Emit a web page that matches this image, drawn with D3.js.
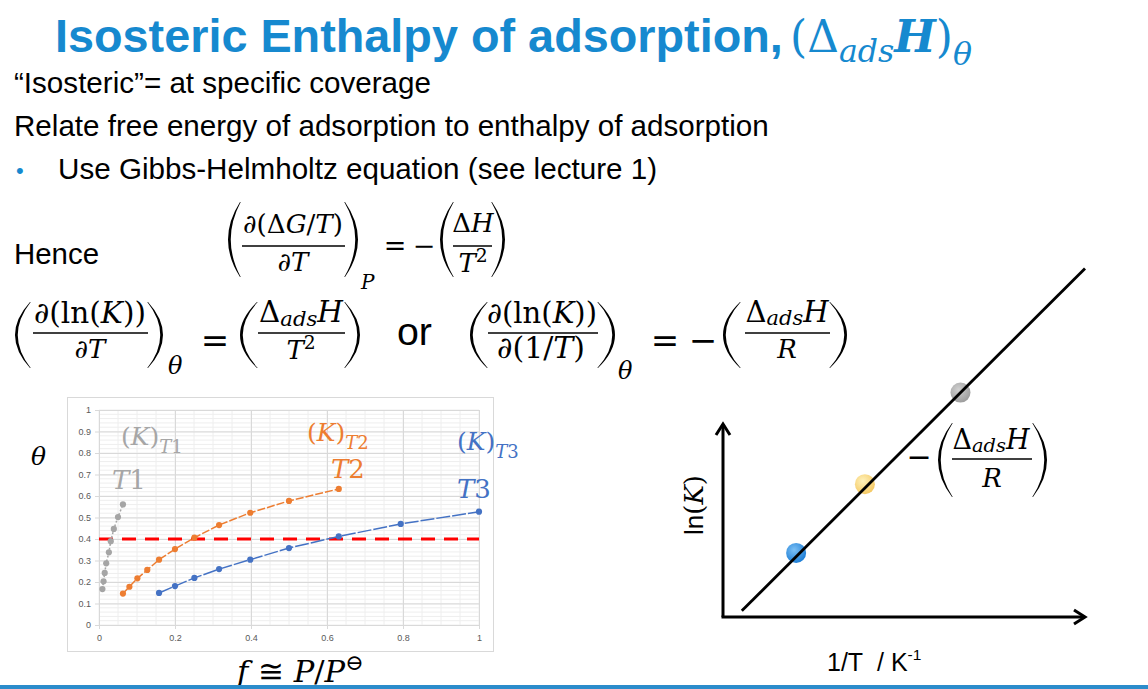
<!DOCTYPE html>
<html>
<head>
<meta charset="utf-8">
<script src="https://cdn.jsdelivr.net/npm/d3@7"></script>
<style>
  html, body { margin: 0; padding: 0; background: #fff; }
  svg { display: block; }
</style>
</head>
<body>
<svg id="slide" width="1148" height="689"></svg>
<script>
// isotherm data (x = f, y = theta)
const grayX = [0.009, 0.012, 0.015, 0.019, 0.026, 0.031, 0.039, 0.050, 0.063];
const grayY = [0.167, 0.203, 0.242, 0.287, 0.338, 0.390, 0.447, 0.502, 0.561];
const orangeX = [0.063, 0.080, 0.101, 0.127, 0.158, 0.200, 0.251, 0.316, 0.398, 0.500, 0.631];
const orangeY = [0.146, 0.178, 0.217, 0.256, 0.304, 0.353, 0.406, 0.465, 0.522, 0.577, 0.633];
const blueX = [0.158, 0.200, 0.251, 0.316, 0.398, 0.500, 0.631, 0.794, 1.000];
const blueY = [0.149, 0.181, 0.219, 0.260, 0.304, 0.358, 0.412, 0.470, 0.527];
const coverage = 0.4;
const xTicks = [0, 0.2, 0.4, 0.6, 0.8, 1];
const yTicks = [0, 0.1, 0.2, 0.3, 0.4, 0.5, 0.6, 0.7, 0.8, 0.9, 1];

// van 't Hoff sketch (arbitrary units)
const fitX = [0.52, 10];
const fitY = [0.17, 9.63];
const dotX = [2.02, 3.92, 6.56];
const dotY = [1.77, 3.67, 6.20];
const dotNames = ["T3", "T2", "T1"];

const BLUE = "#1689cf";
const MATH = "DejaVu Serif, Liberation Serif, serif";
const SANS = "Liberation Sans, Arial, sans-serif";

const svg = d3.select("#slide");
const defs = svg.append("defs");

// fit a text element to a target width by scaling its font-size
function fit(sel, width) {
  const fs = parseFloat(sel.attr("font-size"));
  const w = sel.node().getComputedTextLength();
  if (w > 0) sel.attr("font-size", (fs * width / w).toFixed(2));
  return sel;
}

// math text: parts are [string, flags]; sub may be true or a drop in em
function mtext(g, x, y, parts, fs, color, anchor) {
  const t = g.append("text")
    .attr("x", x).attr("y", y)
    .attr("font-family", MATH)
    .attr("font-size", fs)
    .attr("fill", color || "#000")
    .attr("text-anchor", anchor || "start");
  let shift = 0;
  parts.forEach(([s, f]) => {
    f = f || {};
    const want = f.sub ? (f.sub === true ? 0.3 : f.sub) : f.sup ? -0.4 : 0;
    const ts = t.append("tspan").text(s);
    if (f.sub || f.sup) {
      ts.attr("font-size", "0.72em");
      ts.attr("dy", ((want - shift) / 0.72).toFixed(3) + "em");
    } else if (want !== shift) {
      ts.attr("dy", (want - shift) + "em");
    }
    shift = want;
    if (f.i) ts.attr("font-style", "italic");
    if (f.b) ts.attr("font-weight", "bold");
  });
  return t;
}

// tall bracket drawn as a thin crescent
function paren(g, x1, x2, y1, y2, left, color) {
  const ym = (y1 + y2) / 2, th = 2.4;
  let d;
  if (left) {
    const xe = x2, xm = x1;
    d = `M${xe},${y1} Q${2 * xm - xe},${ym} ${xe},${y2} L${xe + 0.7},${y2} Q${2 * (xm + th) - xe},${ym} ${xe + 0.7},${y1} Z`;
  } else {
    const xe = x1, xm = x2;
    d = `M${xe},${y1} Q${2 * xm - xe},${ym} ${xe},${y2} L${xe - 0.7},${y2} Q${2 * (xm - th) - xe},${ym} ${xe - 0.7},${y1} Z`;
  }
  g.append("path").attr("d", d).attr("fill", color || "#000");
}

function bar(g, x1, x2, y, color) {
  g.append("line").attr("x1", x1).attr("x2", x2).attr("y1", y).attr("y2", y)
    .attr("stroke", color || "#000").attr("stroke-width", 1.7);
}

// Δ_ads H numerator
const dH = [["Δ"], ["ads", { i: true, sub: 0.12 }], ["H", { i: true }]];

// ---------- heading and text ----------
const head = svg.append("g");
fit(head.append("text").attr("x", 55).attr("y", 52)
  .attr("font-family", SANS).attr("font-weight", "bold").attr("font-size", 42)
  .attr("fill", BLUE).text("Isosteric Enthalpy of adsorption,"), 728);
fit(mtext(head, 790, 52, [["(Δ"], ["ads", { i: true, sub: 0.22 }], ["H", { i: true, b: true }], [")"], ["θ", { i: true, sub: true }]], 38, BLUE), 182);

const body = svg.append("g").attr("font-family", SANS).attr("fill", "#000");
fit(body.append("text").attr("x", 14).attr("y", 93).attr("font-size", 26).text("\u201CIsosteric\u201D= at specific coverage"), 417);
fit(body.append("text").attr("x", 14).attr("y", 136).attr("font-size", 26).text("Relate free energy of adsorption to enthalpy of adsorption"), 755);
body.append("text").attr("x", 16).attr("y", 178).attr("font-size", 22).attr("fill", BLUE).text("•");
fit(body.append("text").attr("x", 58).attr("y", 179).attr("font-size", 26).text("Use Gibbs-Helmholtz equation (see lecture 1)"), 599);
fit(body.append("text").attr("x", 14).attr("y", 264).attr("font-size", 25).text("Hence"), 85);
fit(body.append("text").attr("x", 397).attr("y", 345).attr("font-size", 30).text("or"), 35);

// ---------- equations ----------
const eq = svg.append("g");
const FS = 26;
// Gibbs-Helmholtz
paren(eq, 228, 240, 202, 277, true);
fit(mtext(eq, 293, 233, [["∂(Δ"], ["G", { i: true }], ["/"], ["T", { i: true }], [")"]], FS, null, "middle"), 100);
bar(eq, 242, 345, 246);
mtext(eq, 293, 271, [["∂"], ["T", { i: true }]], FS, null, "middle");
paren(eq, 345, 358, 202, 277, false);
mtext(eq, 361, 289, [["P", { i: true }]], 20);
mtext(eq, 395, 255, [["="]], 27, null, "middle");
mtext(eq, 424, 255, [["−"]], 27, null, "middle");
paren(eq, 440, 453, 202, 277, true);
mtext(eq, 473, 232, [["Δ"], ["H", { i: true }]], FS, null, "middle");
bar(eq, 453, 492, 246);
mtext(eq, 473, 272, [["T", { i: true }], ["2", { sup: true }]], FS, null, "middle");
paren(eq, 492, 505, 202, 277, false);

// d lnK / dT
paren(eq, 15, 30, 302, 368, true);
fit(mtext(eq, 90, 323, [["∂(ln("], ["K", { i: true }], ["))"]], FS, null, "middle"), 112);
bar(eq, 33, 148, 333);
mtext(eq, 90, 358, [["∂"], ["T", { i: true }]], FS, null, "middle");
paren(eq, 148, 163, 302, 368, false);
mtext(eq, 168, 374, [["θ", { i: true }]], 24);
mtext(eq, 215, 352, [["="]], 34, null, "middle");
paren(eq, 240, 257, 302, 368, true);
fit(mtext(eq, 301, 322, dH, FS, null, "middle"), 84);
bar(eq, 258, 345, 333);
mtext(eq, 301, 359, [["T", { i: true }], ["2", { sup: true }]], FS, null, "middle");
paren(eq, 345, 360, 302, 368, false);

// d lnK / d(1/T)
paren(eq, 470, 487, 302, 368, true);
fit(mtext(eq, 542, 323, [["∂(ln("], ["K", { i: true }], ["))"]], FS, null, "middle"), 110);
bar(eq, 488, 598, 333);
fit(mtext(eq, 541, 358, [["∂(1/"], ["T", { i: true }], [")"]], FS, null, "middle"), 88);
paren(eq, 598, 615, 302, 368, false);
mtext(eq, 618, 379, [["θ", { i: true }]], 24);
mtext(eq, 665, 352, [["="]], 34, null, "middle");
mtext(eq, 703, 352, [["−"]], 34, null, "middle");
paren(eq, 723, 740, 302, 368, true);
fit(mtext(eq, 787, 322, dH, FS, null, "middle"), 83);
bar(eq, 745, 830, 333);
mtext(eq, 787, 358, [["R", { i: true }]], FS, null, "middle");
paren(eq, 830, 847, 302, 368, false);

// ---------- isotherm chart ----------
const chart = svg.append("g");
chart.append("rect").attr("x", 67.5).attr("y", 397.5).attr("width", 426).attr("height", 254)
  .attr("fill", "#fff").attr("stroke", "#d9d9d9");

const x = d3.scaleLinear().domain([0, 1]).range([99, 479]);
const y = d3.scaleLinear().domain([0, 1]).range([625, 410]);

const minorX = d3.range(0, 1.0001, 0.05);
const minorY = d3.range(0, 1.0001, 0.02);
chart.append("g").selectAll("line").data(minorX).join("line")
  .attr("x1", d => x(d)).attr("x2", d => x(d)).attr("y1", y(0)).attr("y2", y(1))
  .attr("stroke", "#eeeeee");
chart.append("g").selectAll("line").data(minorY).join("line")
  .attr("x1", x(0)).attr("x2", x(1)).attr("y1", d => y(d)).attr("y2", d => y(d))
  .attr("stroke", "#eeeeee");

const yAxis = chart.append("g").attr("transform", `translate(${x(0)},0)`)
  .call(d3.axisLeft(y).tickValues(yTicks).tickSize(4).tickPadding(4).tickFormat(d3.format("")));
yAxis.selectAll(".tick line").clone().attr("x2", x(1) - x(0)).attr("stroke", "#d9d9d9");
const xAxis = chart.append("g").attr("transform", `translate(0,${y(0)})`)
  .call(d3.axisBottom(x).tickValues(xTicks).tickSize(4).tickPadding(6).tickFormat(d3.format("")));
xAxis.selectAll(".tick line").clone().attr("y2", y(1) - y(0)).attr("stroke", "#d9d9d9");
[yAxis, xAxis].forEach(a => {
  a.select(".domain").attr("stroke", "#d9d9d9");
  a.selectAll(".tick line").attr("stroke", "#d9d9d9");
  a.selectAll("text").attr("fill", "#595959").attr("font-size", 9).attr("font-family", SANS);
});

// coverage line with its soft shadow
const blur = defs.append("filter").attr("id", "soft").attr("x", "-5%").attr("y", "-200%")
  .attr("width", "110%").attr("height", "500%");
blur.append("feGaussianBlur").attr("stdDeviation", 1.6);
chart.append("line").attr("x1", x(0)).attr("x2", x(1)).attr("y1", y(coverage) + 3).attr("y2", y(coverage) + 3)
  .attr("stroke", "#9a9a9a").attr("stroke-width", 3.5).attr("stroke-dasharray", "14 9")
  .attr("filter", "url(#soft)");
chart.append("line").attr("x1", x(0)).attr("x2", x(1)).attr("y1", y(coverage)).attr("y2", y(coverage))
  .attr("stroke", "#ff0000").attr("stroke-width", 3.2).attr("stroke-dasharray", "14 9");

const series = [
  { xs: grayX, ys: grayY, color: "#a5a5a5", dash: "2 2" },
  { xs: orangeX, ys: orangeY, color: "#ed7d31", dash: "8 2" },
  { xs: blueX, ys: blueY, color: "#4472c4", dash: "14 2" }
];
const line = d3.line().x(d => x(d[0])).y(d => y(d[1]));
series.forEach(s => {
  const pts = s.xs.map((v, i) => [v, s.ys[i]]);
  chart.append("path").datum(pts).attr("d", line).attr("fill", "none")
    .attr("stroke", s.color).attr("stroke-width", 1.5).attr("stroke-dasharray", s.dash);
  chart.append("g").selectAll("circle").data(pts).join("circle")
    .attr("cx", d => x(d[0])).attr("cy", d => y(d[1])).attr("r", 3.1).attr("fill", s.color);
});

// series labels
const lab = svg.append("g");
mtext(lab, 121, 445, [["("], ["K", { i: true }], [")"], ["T", { i: true, sub: true }], ["1", { sub: true }]], 25, "#a6a6a6");
mtext(lab, 112, 489, [["T", { i: true }], ["1"]], 26, "#a6a6a6");
mtext(lab, 307, 441, [["("], ["K", { i: true }], [")"], ["T", { i: true, sub: true }], ["2", { sub: true }]], 25, "#ed7d31");
mtext(lab, 331, 478, [["T", { i: true }], ["2"]], 26, "#ed7d31");
mtext(lab, 457, 450, [["("], ["K", { i: true }], [")"], ["T", { i: true, sub: true }], ["3", { sub: true }]], 25, "#4472c4");
mtext(lab, 457, 498, [["T", { i: true }], ["3"]], 26, "#4472c4");
mtext(lab, 31, 465, [["θ", { i: true }]], 25);
fit(mtext(lab, 237, 682, [["f", { i: true }], [" ≅ "], ["P", { i: true }], ["/"], ["P", { i: true }], ["⊖", { sup: true }]], 24), 126);

// ---------- ln K vs 1/T sketch ----------
const vh = svg.append("g");
const xs = d3.scaleLinear().domain([0, 10]).range([723, 1085]);
const ys = d3.scaleLinear().domain([0, 10]).range([617, 255]);

vh.append("line").attr("x1", xs(0)).attr("x2", xs(0)).attr("y1", ys(0)).attr("y2", ys(5.33))
  .attr("stroke", "#000").attr("stroke-width", 3);
vh.append("line").attr("x1", xs(0) - 1.5).attr("x2", xs(10)).attr("y1", ys(0)).attr("y2", ys(0))
  .attr("stroke", "#000").attr("stroke-width", 3);
vh.append("path").attr("d", `M${xs(0) - 7},${ys(5.33) + 11} L${xs(0)},${ys(5.33)} L${xs(0) + 7},${ys(5.33) + 11}`)
  .attr("fill", "none").attr("stroke", "#000").attr("stroke-width", 3);
vh.append("path").attr("d", `M${xs(10) - 11},${ys(0) - 7} L${xs(10)},${ys(0)} L${xs(10) - 11},${ys(0) + 7}`)
  .attr("fill", "none").attr("stroke", "#000").attr("stroke-width", 3);

const dotFill = {
  T3: ["#7cc0f5", "#1f7fd6"],
  T2: ["#fff0b0", "#f3c04a"],
  T1: ["#c8c8c8", "#8c8c8c"]
};
dotNames.forEach(n => {
  const gr = defs.append("radialGradient").attr("id", "dot" + n).attr("cx", "40%").attr("cy", "35%").attr("r", "65%");
  gr.append("stop").attr("offset", "0%").attr("stop-color", dotFill[n][0]);
  gr.append("stop").attr("offset", "100%").attr("stop-color", dotFill[n][1]);
});
vh.append("g").selectAll("circle").data(dotNames).join("circle")
  .attr("cx", (d, i) => xs(dotX[i])).attr("cy", (d, i) => ys(dotY[i])).attr("r", 10)
  .attr("fill", d => `url(#dot${d})`).attr("opacity", d => d === "T3" ? 1 : 0.85);
// fitted line drawn over the dots
vh.append("line").attr("x1", xs(fitX[0])).attr("y1", ys(fitY[0])).attr("x2", xs(fitX[1])).attr("y2", ys(fitY[1]))
  .attr("stroke", "#000").attr("stroke-width", 2.8);

// slope annotation
mtext(vh, 919, 467, [["−"]], 30, null, "middle");
paren(vh, 938, 952, 423, 497, true);
fit(mtext(vh, 991, 449, dH, 26, null, "middle"), 77);
bar(vh, 952, 1032, 459);
mtext(vh, 992, 487, [["R", { i: true }]], 26, null, "middle");
paren(vh, 1033, 1047, 423, 497, false);

const ylab = vh.append("g").attr("transform", "translate(703,505) rotate(-90)");
const yl = ylab.append("text").attr("text-anchor", "middle").attr("font-size", 26).attr("font-family", SANS);
yl.append("tspan").text("ln");
yl.append("tspan").attr("font-family", MATH).text("(");
yl.append("tspan").attr("font-family", MATH).attr("font-style", "italic").text("K");
yl.append("tspan").attr("font-family", MATH).text(")");

const xl = vh.append("text").attr("x", 827).attr("y", 671).attr("font-family", SANS).attr("font-size", 25);
xl.append("tspan").text("1/T\u00A0\u00A0/ K");
xl.append("tspan").attr("font-size", "0.62em").attr("dy", "-0.7em").text("-1");

// footer rule
svg.append("rect").attr("x", 0).attr("y", 685).attr("width", 1148).attr("height", 4).attr("fill", "#2b8ccb");
</script>
</body>
</html>
